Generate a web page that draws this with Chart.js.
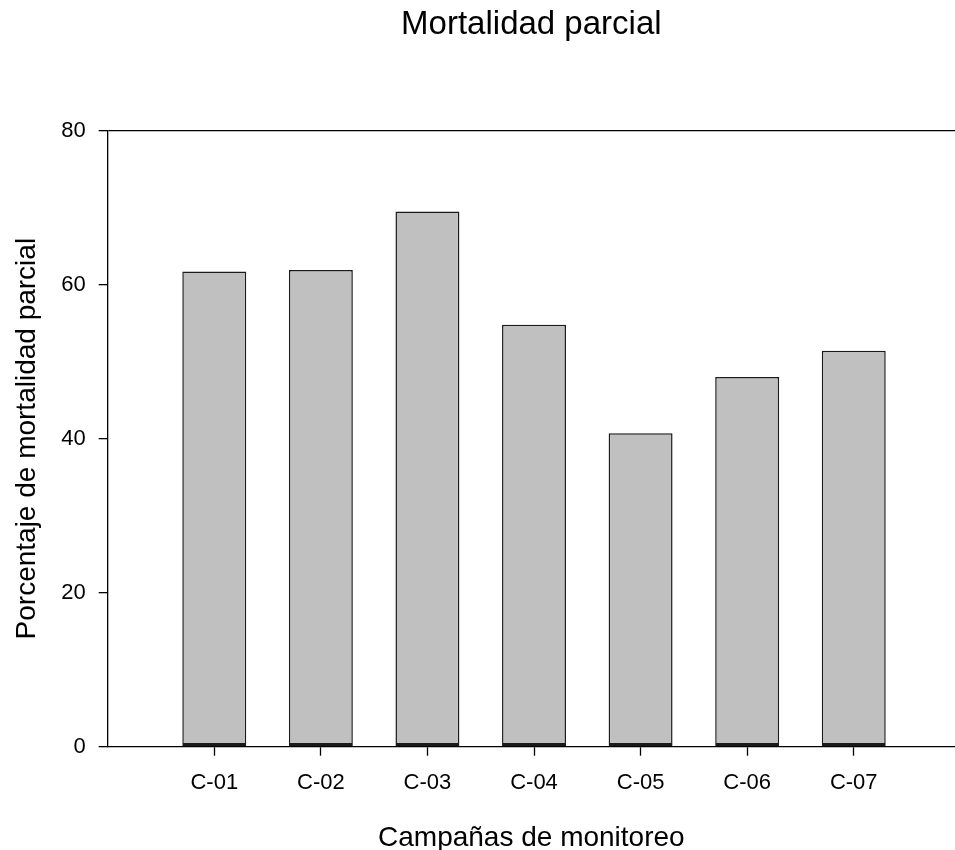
<!DOCTYPE html>
<html lang="es">
<head>
    <meta charset="UTF-8">
    <title>Mortalidad parcial</title>
    <style>
        html, body { margin: 0; padding: 0; background: #fff; overflow: hidden; }
        #grafico { width: 955px; height: 850px; }
    </style>
</head>
<body>
    <div id="grafico">
        <canvas id="myChart" width="955" height="850"></canvas>
    </div>
    <script src="https://cdn.jsdelivr.net/npm/chart.js"></script>
    <script>
        // datos
        var campanas = ["C-01", "C-02", "C-03", "C-04", "C-05", "C-06", "C-07"];
        var mortalidad = [61.7, 61.9, 69.5, 54.8, 40.7, 48.0, 51.4];
        var ticksY = [0, 20, 40, 60, 80];

        var fuente = "'Liberation Sans', Arial, sans-serif";

        var puntos = [];
        for (var i = 0; i < campanas.length; i++) {
            puntos.push({ x: i + 1, y: mortalidad[i] });
        }

        var data = {
            datasets: [{
                label: "Mortalidad parcial",
                data: puntos,
                backgroundColor: "#c0c0c0",
                borderColor: "#1a1a1a",
                borderWidth: { top: 1.5, left: 1.5, right: 1.5, bottom: 3 },
                borderSkipped: false,
                barPercentage: 0.6,
                categoryPercentage: 1.0,
            }]
        };

        var config = {
            type: "bar",
            data: data,
            options: {
                responsive: false,
                animation: false,
                layout: { padding: 0 },
                plugins: {
                    legend: { display: false },
                    tooltip: { enabled: false },
                    title: {
                        display: true,
                        text: "Mortalidad parcial",
                        color: "#000",
                        fullSize: false,
                        font: { family: fuente, size: 33, weight: "normal", lineHeight: 1.2 },
                        padding: { top: 5, bottom: 86 },
                    },
                },
                scales: {
                    x: {
                        type: "linear",
                        offset: false,
                        min: 0,
                        max: 7.95,
                        afterBuildTicks: function (scale) {
                            scale.ticks = campanas.map(function (c, i) { return { value: i + 1 }; });
                        },
                        afterFit: function (scale) { scale.height = 103.3; },
                        ticks: {
                            color: "#000",
                            padding: 14,
                            maxRotation: 0,
                            font: { family: fuente, size: 22 },
                            callback: function (v) { return campanas[v - 1]; },
                        },
                        grid: {
                            offset: false,
                            drawOnChartArea: false,
                            color: "#000",
                            tickColor: "#000",
                            tickWidth: 1.3,
                            tickLength: 9,
                        },
                        border: { display: true, color: "#000", width: 1.3 },
                        title: {
                            display: true,
                            text: "Campañas de monitoreo",
                            color: "#000",
                            font: { family: fuente, size: 28, lineHeight: 1 },
                            padding: { top: 0, bottom: -2 },
                        },
                    },
                    y: {
                        min: 0,
                        max: 80,
                        afterBuildTicks: function (scale) {
                            scale.ticks = ticksY.map(function (v) { return { value: v }; });
                        },
                        afterFit: function (scale) { scale.width = 107.7; },
                        ticks: {
                            color: "#000",
                            padding: 13,
                            font: { family: fuente, size: 22 },
                        },
                        grid: {
                            color: function (ctx) {
                                return ctx.tick && ctx.tick.value === 80 ? "#000" : "rgba(0,0,0,0)";
                            },
                            lineWidth: 1.3,
                            tickColor: "#000",
                            tickLength: 9,
                        },
                        border: { display: true, color: "#000", width: 1.3 },
                        title: {
                            display: true,
                            text: "Porcentaje de mortalidad parcial",
                            color: "#000",
                            font: { family: fuente, size: 28, lineHeight: 1 },
                            padding: { top: 13, bottom: 0 },
                        },
                    },
                },
            },
        };

        new Chart(document.getElementById("myChart"), config);
    </script>
</body>
</html>
